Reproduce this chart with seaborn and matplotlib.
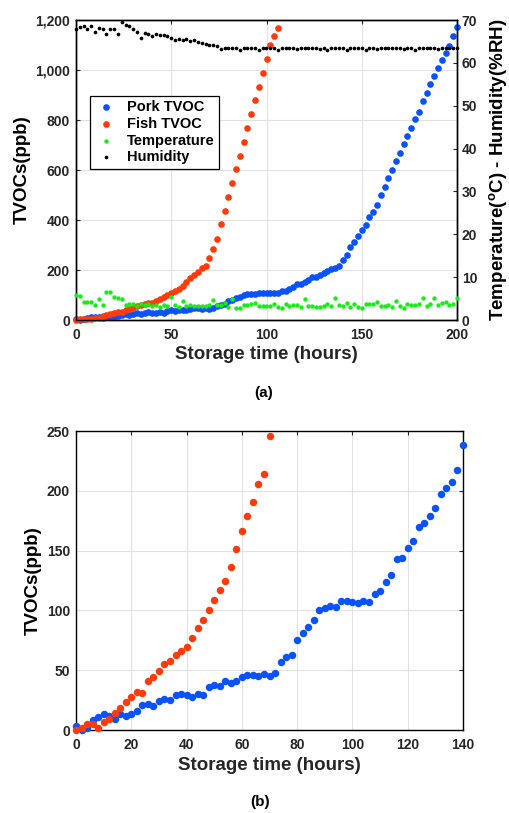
import numpy as np
import pandas as pd
import seaborn as sns
import matplotlib
matplotlib.use("Agg")
import matplotlib.pyplot as plt
from matplotlib.ticker import FuncFormatter

# ---- measurements (one reading every 2 hours) ----
hours = np.arange(0, 201, 2)

pork_tvoc = [
    3, 0, 2, 8, 11, 13, 12, 9, 13, 12,
    13, 16, 21, 22, 20, 24, 26, 25, 29, 30,
    29, 28, 30, 29, 36, 38, 37, 41, 39, 41,
    44, 46, 46, 45, 47, 45, 48, 57, 61, 63,
    75, 81, 86, 92, 100, 102, 104, 103, 108, 108,
    107, 106, 108, 107, 114, 116, 124, 130, 143, 144,
    152, 158, 170, 173, 179, 186, 197, 202, 207, 217,
    238, 260, 291, 312, 337, 361, 379, 411, 433, 461,
    499, 533, 568, 600, 635, 669, 703, 737, 767, 804,
    833, 875, 908, 944, 976, 1007, 1039, 1069, 1095, 1135,
    1173,
]

fish_tvoc = [
    0, 2, 5, 5, 2, 7, 9, 14, 18, 23,
    28, 32, 31, 41, 44, 49, 55, 58, 63, 66,
    69, 77, 85, 92, 100, 109, 117, 125, 136, 151,
    166, 179, 191, 206, 214, 246, 285, 324, 382, 437,
    492, 548, 604, 657, 713, 767, 823, 879, 933, 989,
    1044, 1100, 1137, 1167,
]

temperature = [
    5.8, 5.6, 4.1, 4.3, 4.1, 3.6, 4.8, 3.4, 6.6, 6.6,
    5.4, 5.1, 4.9, 3.4, 3.7, 3.7, 3.2, 3.7, 3.4, 3.7,
    3.3, 3.6, 3.1, 3.4, 3.3, 5.3, 3.5, 3.1, 4.5, 3.2,
    3.4, 3.2, 3.3, 3.2, 3.3, 3.6, 4.6, 3.4, 3.4, 3.9,
    3.1, 5.0, 2.9, 2.9, 3.6, 3.5, 3.8, 4.0, 3.3,
    3.35, 3.2, 3.35, 3.65, 3.1, 2.8, 3.65, 3.35, 3.5, 3.5,
    3.0, 4.9, 3.3, 3.35, 3.0, 3.1, 3.35, 3.65, 3.3, 5.1,
    3.5, 3.3, 3.9, 3.0, 3.7, 3.1, 2.7, 3.8, 3.65, 3.7,
    4.3, 3.35, 3.35, 3.6, 3.1, 4.5, 3.35, 2.9, 3.65, 3.5,
    3.6, 3.8, 5.1, 3.35, 3.8, 5.1, 3.5, 3.9, 4.2, 3.5,
    3.7, 5.1,
]

humidity = [
    67.8, 68.4, 68.6, 68.0, 68.7, 67.1, 68.1, 67.8, 66.8, 67.9,
    67.9, 66.8, 69.5, 68.8, 68.7, 67.8, 67.2, 65.7, 66.9, 66.7,
    66.2, 66.8, 66.5, 66.6, 66.3, 65.9, 65.3, 65.6, 65.3, 65.5,
    65.2, 65.3, 64.8, 64.7, 64.4, 64.2, 64.2, 64.0, 63.2, 63.5,
    63.5, 63.5, 63.5, 63.0, 63.5, 63.5, 63.5, 63.5, 63.0,
    63.4, 63.5, 63.4, 63.4, 63.0, 63.4, 63.5, 63.4, 63.4, 63.3,
    63.4, 63.4, 63.5, 63.4, 63.4, 63.3, 63.4, 63.0, 63.4, 63.5,
    63.4, 63.4, 63.0, 63.4, 63.4, 63.5, 63.4, 63.1, 63.4, 63.4,
    63.3, 63.4, 63.4, 63.5, 63.4, 63.4, 63.4, 63.3, 63.4, 63.4,
    63.0, 63.4, 63.5, 63.4, 63.4, 63.4, 63.3, 63.4, 63.4, 63.4,
    63.4, 63.4,
]

pork = pd.DataFrame({"hours": hours, "tvoc": pork_tvoc})
fish = pd.DataFrame({"hours": hours[:len(fish_tvoc)], "tvoc": fish_tvoc})
env = pd.DataFrame({"hours": hours, "temp": temperature, "rh": humidity})

# ---- style ----
BLUE = "#0a52ff"
RED = "#ff3b0c"
GREEN = "#16ee16"
BLACK = "#000000"
TXT = "#262626"
GRID = "#e2e2e2"

sns.set_style("white")
plt.rcParams["font.family"] = ["Liberation Sans", "DejaVu Sans"]
plt.rcParams["font.weight"] = "bold"
plt.rcParams["axes.labelweight"] = "bold"
plt.rcParams["mathtext.fontset"] = "custom"
plt.rcParams["mathtext.bf"] = "Liberation Sans:bold"
plt.rcParams["mathtext.rm"] = "Liberation Sans:bold"

W, H = 509, 813
fig = plt.figure(figsize=(W / 100, H / 100), dpi=100)
axa = fig.add_axes([76 / W, 1 - 320 / H, 381 / W, 300 / H])
axb = fig.add_axes([76 / W, 1 - 730 / H, 387 / W, 299 / H])

TICK_FS = 10
LABEL_FS = 13.5
BIG = 23
SMALL_T = 10
SMALL_H = 7


def frame(ax):
    for sp in ax.spines.values():
        sp.set_color("black")
        sp.set_linewidth(1.0)


# ---- panel (a): full storage period ----
sns.scatterplot(data=pork, x="hours", y="tvoc", ax=axa, color=BLUE, s=BIG,
                linewidth=0, clip_on=False, zorder=3, label="Pork TVOC", legend=False)
sns.scatterplot(data=fish, x="hours", y="tvoc", ax=axa, color=RED, s=BIG,
                linewidth=0, clip_on=False, zorder=3, label="Fish TVOC", legend=False)
axa.set_xlim(0, 200)
axa.set_ylim(0, 1200)
axa.set_xticks(np.arange(0, 201, 50))
axa.set_yticks(np.arange(0, 1201, 200))
axa.yaxis.set_major_formatter(FuncFormatter(lambda v, p: f"{int(v):,}"))
axa.grid(True, color=GRID, linewidth=0.8)
axa.set_axisbelow(True)
axa.tick_params(axis="both", direction="in", length=3, width=0.8,
                labelsize=TICK_FS, labelcolor=TXT, top=True, right=False)
axa.tick_params(axis="x", pad=5.5)
axa.tick_params(axis="y", pad=4.3)
axa.set_xlabel("Storage time (hours)", fontsize=LABEL_FS, color=TXT)
axa.set_ylabel("TVOCs(ppb)", fontsize=LABEL_FS, color="black")
axa.xaxis.set_label_coords(0.5, -0.085)
axa.yaxis.set_label_coords(-0.118, 0.5)
frame(axa)

axr = axa.twinx()
sns.scatterplot(data=env, x="hours", y="temp", ax=axr, color=GREEN, s=SMALL_T,
                linewidth=0, clip_on=False, zorder=3, label="Temperature", legend=False)
sns.scatterplot(data=env, x="hours", y="rh", ax=axr, color=BLACK, s=SMALL_H,
                linewidth=0, clip_on=False, zorder=3, label="Humidity", legend=False)
axr.set_ylim(0, 70)
axr.set_yticks(np.arange(0, 71, 10))
axr.grid(False)
axr.tick_params(axis="y", direction="in", length=3, width=0.8, pad=3.5,
                labelsize=TICK_FS, labelcolor=TXT)
axr.set_ylabel(r"Temperature($^{\mathbf{o}}$C) - Humidity(%RH)",
               fontsize=LABEL_FS, color="black")
axr.yaxis.set_label_coords(1.079, 0.5)
axr.set_xlabel("")
frame(axr)

h1, l1 = axa.get_legend_handles_labels()
h2, l2 = axr.get_legend_handles_labels()
leg = axr.legend(h1 + h2, l1 + l2, loc="upper left", bbox_to_anchor=(0.037, 0.747),
                 frameon=True, fancybox=False, edgecolor="black", framealpha=1,
                 fontsize=10.5, borderpad=0.3, labelspacing=0.18,
                 handlelength=1.6, handletextpad=0.6, borderaxespad=0)
leg.get_frame().set_linewidth(0.9)
for t in leg.get_texts():
    t.set_color("black")

fig.text(264 / W, 1 - 393 / H, "(a)", ha="center", va="center",
         fontsize=11, color="black")

# ---- panel (b): first 140 hours ----
pork_b = pork[pork["hours"] <= 140]
fish_b = fish[fish["tvoc"] <= 250]
sns.scatterplot(data=pork_b, x="hours", y="tvoc", ax=axb, color=BLUE, s=BIG + 6,
                linewidth=0, clip_on=False, zorder=3, legend=False)
sns.scatterplot(data=fish_b, x="hours", y="tvoc", ax=axb, color=RED, s=BIG + 6,
                linewidth=0, clip_on=False, zorder=3, legend=False)
axb.set_xlim(0, 140)
axb.set_ylim(0, 250)
axb.set_xticks(np.arange(0, 141, 20))
axb.set_yticks(np.arange(0, 251, 50))
axb.grid(True, color=GRID, linewidth=0.8)
axb.set_axisbelow(True)
axb.tick_params(axis="both", direction="in", length=3, width=0.8,
                labelsize=TICK_FS, labelcolor=TXT, top=True, right=True)
axb.tick_params(axis="x", pad=5.5)
axb.tick_params(axis="y", pad=4.3)
axb.set_xlabel("Storage time (hours)", fontsize=LABEL_FS, color=TXT)
axb.set_ylabel("TVOCs(ppb)", fontsize=LABEL_FS, color="black")
axb.xaxis.set_label_coords(0.5, -0.090)
axb.yaxis.set_label_coords(-0.088, 0.5)
frame(axb)

fig.text(260 / W, 1 - 802 / H, "(b)", ha="center", va="center",
         fontsize=11, color="black")

fig.savefig("out.png", dpi=100)
